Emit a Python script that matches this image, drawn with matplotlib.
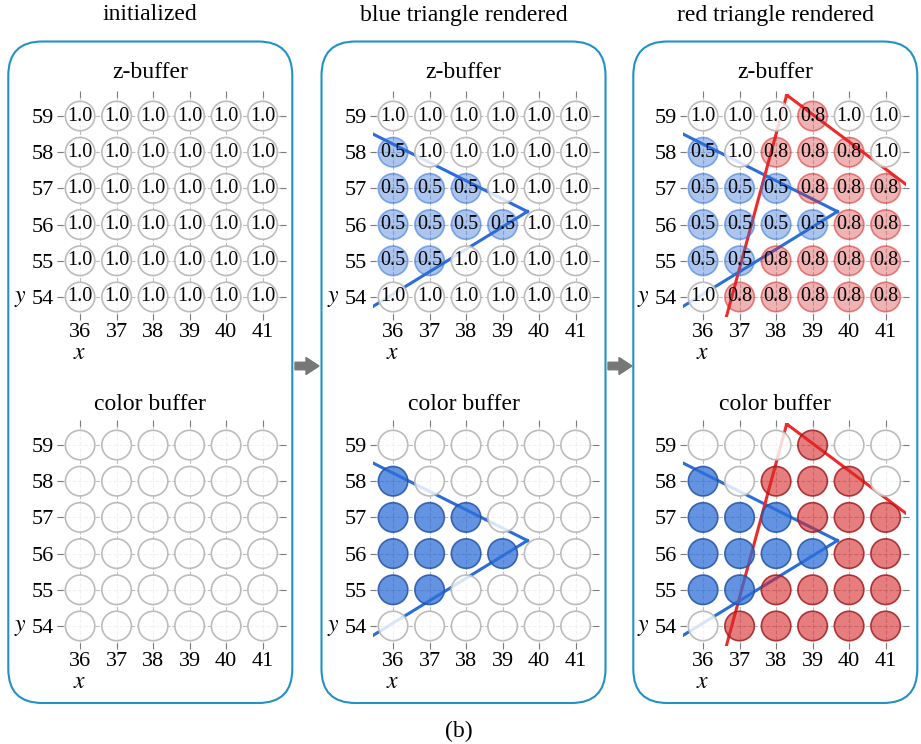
import matplotlib.pyplot as plt
from matplotlib.patches import FancyBboxPatch, FancyArrow

plt.rcParams['font.family'] = ['Liberation Serif', 'DejaVu Serif']
plt.rcParams['mathtext.fontset'] = 'stix'

W, H = 921, 744

xs = [36, 37, 38, 39, 40, 41]
ys = [59, 58, 57, 56, 55, 54]

stage_titles = ["initialized", "blue triangle rendered", "red triangle rendered"]

# depth values per stage, rows y=59..54, columns x=36..41
depth_init = [
    [1.0, 1.0, 1.0, 1.0, 1.0, 1.0],
    [1.0, 1.0, 1.0, 1.0, 1.0, 1.0],
    [1.0, 1.0, 1.0, 1.0, 1.0, 1.0],
    [1.0, 1.0, 1.0, 1.0, 1.0, 1.0],
    [1.0, 1.0, 1.0, 1.0, 1.0, 1.0],
    [1.0, 1.0, 1.0, 1.0, 1.0, 1.0],
]
depth_blue = [
    [1.0, 1.0, 1.0, 1.0, 1.0, 1.0],
    [0.5, 1.0, 1.0, 1.0, 1.0, 1.0],
    [0.5, 0.5, 0.5, 1.0, 1.0, 1.0],
    [0.5, 0.5, 0.5, 0.5, 1.0, 1.0],
    [0.5, 0.5, 1.0, 1.0, 1.0, 1.0],
    [1.0, 1.0, 1.0, 1.0, 1.0, 1.0],
]
depth_red = [
    [1.0, 1.0, 1.0, 0.8, 1.0, 1.0],
    [0.5, 1.0, 0.8, 0.8, 0.8, 1.0],
    [0.5, 0.5, 0.5, 0.8, 0.8, 0.8],
    [0.5, 0.5, 0.5, 0.5, 0.8, 0.8],
    [0.5, 0.5, 0.8, 0.8, 0.8, 0.8],
    [1.0, 0.8, 0.8, 0.8, 0.8, 0.8],
]
stages = [depth_init, depth_blue, depth_red]

# triangle vertices (partly outside the visible grid)
blue_tri_x = [39.68, 35.0, 35.0]
blue_tri_y = [56.36, 58.73, 53.46]
red_tri_x = [38.29, 47.0, 36.3]
red_tri_y = [59.58, 53.0, 52.2]
stage_tris = [[], ["blue"], ["blue", "red"]]

BLUE = (0.184, 0.435, 0.847)
RED = (0.84, 0.153, 0.157)
LINE_COL = {"blue": "#2a6ddb", "red": "#ee2a2a"}
TRI = {"blue": (blue_tri_x, blue_tri_y), "red": (red_tri_x, red_tri_y)}

# depth value -> which triangle wrote it
owner = {1.0: None, 0.5: "blue", 0.8: "red"}


def circle_style(who, kind):
    if who is None:
        return (1, 1, 1, 0.82), "#bcbcbc"
    base = BLUE if who == "blue" else RED
    if kind == "z":
        a = 0.4 if who == "blue" else 0.35
        return base + (a,), base + (0.55,)
    a = 0.75 if who == "blue" else 0.6
    dark = tuple(c * 0.75 for c in base)
    return base + (a,), dark + (0.85,)


fig = plt.figure(figsize=(W / 100, H / 100), dpi=100)

panel_left = [8.3, 321.5, 633.3]
panel_w = 284
axes_left = [60, 373, 683]
ax_w, ax_h = 222.7, 222.6
ax_tops = [94.3, 423.3]
sub_titles = ["z-buffer", "color buffer"]
sub_y = [72, 405]

for p in range(3):
    pl = panel_left[p]
    box = FancyBboxPatch((pl / 100, (H - 703) / 100), panel_w / 100, (703 - 41.5) / 100,
                         boxstyle="round,pad=0,rounding_size=0.34",
                         transform=fig.dpi_scale_trans, fc='none', ec='#2191c6', lw=1.5)
    fig.add_artist(box)
    cx = pl + panel_w / 2
    fig.text(cx / W, 1 - 15 / H, stage_titles[p], ha='center', va='center', fontsize=17)

    depth = stages[p]
    for k, kind in enumerate(["z", "color"]):
        top = ax_tops[k]
        fig.text(cx / W, 1 - sub_y[k] / H, sub_titles[k], ha='center', va='center', fontsize=17)
        ax = fig.add_axes([axes_left[p] / W, 1 - (top + ax_h) / H, ax_w / W, ax_h / H])
        ax.set_xlim(35.45, 41.55)
        ax.set_ylim(53.45, 59.6)
        ax.set_xticks(xs)
        ax.set_yticks(ys)
        for s in ax.spines.values():
            s.set_visible(False)
        ax.set_facecolor('none')
        ax.tick_params(direction='inout', length=5, width=0.8, color='#7a7a7a',
                       top=True, right=True, labelsize=16, pad=2)
        ax.grid(True, ls='--', color='#bdbdbd', lw=0.8)
        ax.set_axisbelow(True)

        for name in stage_tris[p]:
            tx, ty = TRI[name]
            ax.plot(tx + [tx[0]], ty + [ty[0]], color=LINE_COL[name], lw=2.2,
                    zorder=2, solid_joinstyle='miter')

        px, py, fcs, ecs = [], [], [], []
        for i, yv in enumerate(ys):
            for j, xv in enumerate(xs):
                fc, ec = circle_style(owner[depth[i][j]], kind)
                px.append(xv)
                py.append(yv)
                fcs.append(fc)
                ecs.append(ec)
                if kind == "z":
                    ax.text(xv, yv, f"{depth[i][j]:.1f}", ha='center', va='center',
                            fontsize=14.5, zorder=4)
        ax.scatter(px, py, s=450, facecolors=fcs, edgecolors=ecs, linewidths=1.2, zorder=3)

        # axis names
        fig.text((axes_left[p] - 40) / W, 1 - (top + ax_h - 0.55 * 36.2 + 2) / H, "$y$",
                 ha='center', va='center', fontsize=17)
        fig.text((axes_left[p] + 20) / W, 1 - (top + ax_h + 37) / H, "$x$",
                 ha='center', va='center', fontsize=17)

for ax0 in [295, 608]:
    arr = FancyArrow(ax0 / 100, (H - 366) / 100, 0.24, 0, width=0.075, head_width=0.17,
                     head_length=0.13, length_includes_head=True, color='#777777',
                     transform=fig.dpi_scale_trans)
    fig.add_artist(arr)

fig.text(459 / W, 1 - 731 / H, "(b)", ha='center', va='center', fontsize=17)

fig.savefig("out.png", dpi=100)
